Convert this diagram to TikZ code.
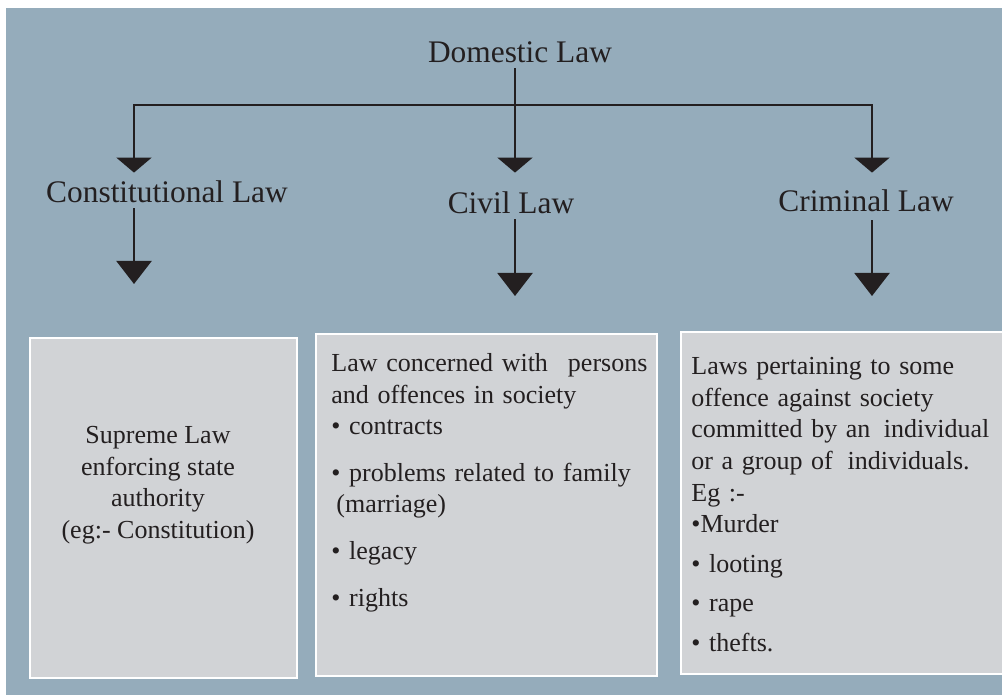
\documentclass[tikz,border=0pt]{standalone}
\usepackage{fontspec}
\setmainfont{Liberation Serif}
\usetikzlibrary{arrows.meta}
\definecolor{slatebg}{RGB}{149, 172, 187}
\definecolor{panelgrey}{RGB}{209, 211, 214}
\definecolor{inktext}{RGB}{35, 31, 32}

\begin{document}
\begin{tikzpicture}[
        x=0.5pt, y=-0.5pt,
        head/.style={font=\fontsize{15.7}{18}\selectfont, text=inktext, inner sep=0pt, text height=10.5pt, text depth=2.5pt, anchor=base},
        panel/.style={draw=white, line width=1pt, fill=panelgrey, inner sep=0pt},
        body/.style={font=\fontsize{13}{15.8}\selectfont, text=inktext, inner sep=0pt},
        link/.style={line width=1.1pt, inktext},
        arrow/.style={link, >={Triangle[width=17.5pt, length=7.5pt]}, ->},
        bigarrow/.style={link, >={Triangle[width=17.5pt, length=11.5pt]}, ->}
    ]
        \fill[white] (0,0) rectangle (1002,695);
        \useasboundingbox (0,0) rectangle (1002,695);
        \fill[slatebg] (6,8) rectangle (1002,695);

        \node[head] (dom) at (520,63) {Domestic Law};
        \node[head] (con) at (167,203) {Constitutional Law};
        \node[head] (civ) at (511,214) {Civil Law};
        \node[head] (cri) at (866,212) {Criminal Law};

        \node[panel, minimum width=133.5pt, minimum height=170pt] (box1) at (163.5,508) {};
        \node[panel, minimum width=170.5pt, minimum height=171pt] (box2) at (486.5,505) {};
        \node[panel, minimum width=164.5pt, minimum height=171pt] (box3) at (845.5,503) {};

        \coordinate (busL) at (134,105);
        \coordinate (busM) at (515,105);
        \coordinate (busR) at (872,105);

        \draw[arrow, <->, shorten <=4.5pt, shorten >=9pt] (busL |- con.north) -- (busL) -- (busR) -- (busR |- cri.north);
        \draw[arrow, shorten >=10pt] (dom.south -| busM) -- (busM |- civ.north);

        \draw[bigarrow, shorten >=26.5pt] (con.south -| busL) -- (box1.north -| busL);
        \draw[bigarrow, shorten >=18.5pt] (civ.south -| busM) -- (box2.north -| busM);
        \draw[bigarrow, shorten <=1.5pt, shorten >=17.5pt] (cri.south -| busR) -- (box3.north -| busR);

        \node[body, anchor=north, align=center] (t1) at (158,426) {Supreme Law\\enforcing state\\authority\\(eg:- Constitution)};
        \node[body, anchor=north west, text width=158pt, align=left] (t2) at (331,353) {\makebox[158pt][s]{Law concerned with\hfill persons}\\and offences in society\\• contracts\\[7.5pt]• problems related to family\\\hspace*{2.5pt}(marriage)\\[7.5pt]• legacy\\[7.5pt]• rights};
        \node[body, anchor=north west, text width=149pt, align=left] (t3) at (691,357) {\makebox[149pt][s]{Laws pertaining to some}\\\makebox[149pt][s]{offence against society}\\\makebox[149pt][s]{committed by an\hfill individual}\\or a group of\hspace{3pt} individuals.\\Eg :-\\•Murder\\[4pt]• looting\\[4pt]• rape\\[4pt]• thefts.};
    \end{tikzpicture}
\end{document}
